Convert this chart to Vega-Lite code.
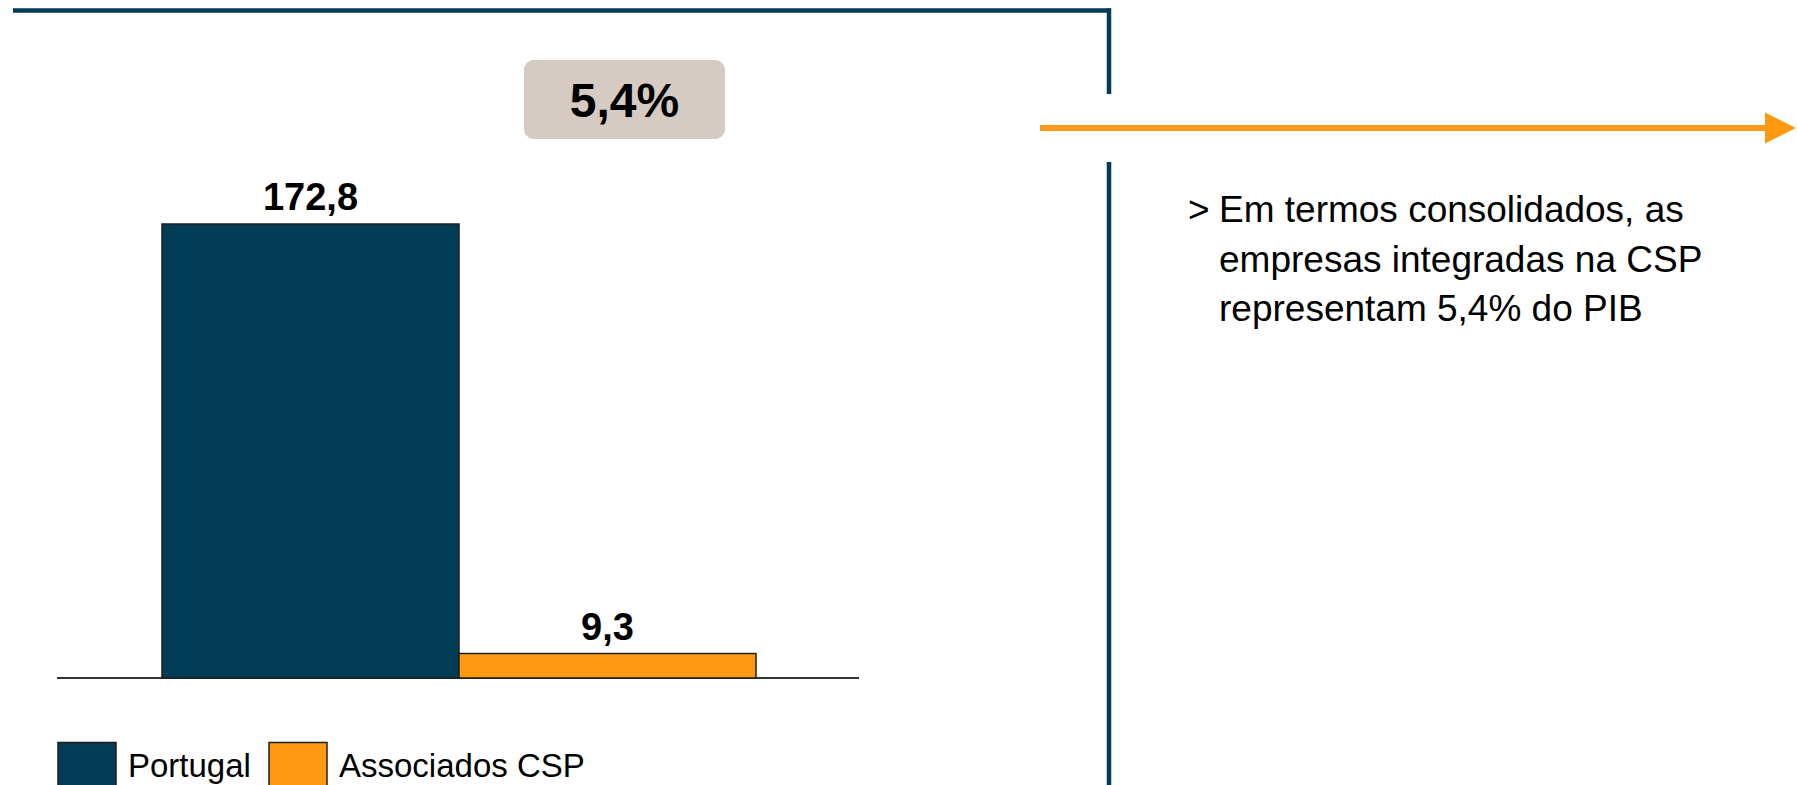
{
  "$schema": "https://vega.github.io/schema/vega-lite/v6.json",
  "autosize": "none",
  "width": 1797,
  "height": 785,
  "padding": 0,
  "background": "#ffffff",
  "config": {
    "view": {"stroke": null},
    "font": "Liberation Sans, Arial, sans-serif"
  },
  "datasets": {
    "bars": [
      {"grupo": "Portugal", "valor": 172.8, "rotulo": "172,8"},
      {"grupo": "Associados CSP", "valor": 9.3, "rotulo": "9,3"}
    ],
    "nota": [
      {"linha": 1, "texto": "Em termos consolidados, as"},
      {"linha": 2, "texto": "empresas integradas na CSP"},
      {"linha": 3, "texto": "representam 5,4% do PIB"}
    ]
  },
  "resolve": {"scale": {"x": "independent", "y": "independent"}},
  "layer": [
    {
      "data": {"values": [{}]},
      "layer": [
        {
          "mark": {"type": "rule", "color": "#033D55", "strokeWidth": 4.5},
          "encoding": {
            "x": {"datum": 13, "type": "quantitative", "scale": {"domain": [0, 1797], "nice": false, "zero": false}, "axis": null},
            "x2": {"datum": 1111},
            "y": {"datum": 10.5, "type": "quantitative", "scale": {"domain": [785, 0], "nice": false, "zero": false}, "axis": null}
          }
        },
        {
          "mark": {"type": "rule", "color": "#033D55", "strokeWidth": 4.5},
          "encoding": {
            "x": {"datum": 1109, "type": "quantitative", "scale": {"domain": [0, 1797], "nice": false, "zero": false}, "axis": null},
            "y": {"datum": 8.3, "type": "quantitative", "scale": {"domain": [785, 0], "nice": false, "zero": false}, "axis": null},
            "y2": {"datum": 94}
          }
        },
        {
          "mark": {"type": "rule", "color": "#033D55", "strokeWidth": 4.5},
          "encoding": {
            "x": {"datum": 1109, "type": "quantitative", "scale": {"domain": [0, 1797], "nice": false, "zero": false}, "axis": null},
            "y": {"datum": 162, "type": "quantitative", "scale": {"domain": [785, 0], "nice": false, "zero": false}, "axis": null},
            "y2": {"datum": 785}
          }
        },
        {
          "mark": {"type": "rule", "color": "#FF9912", "strokeWidth": 6},
          "encoding": {
            "x": {"datum": 1040, "type": "quantitative", "scale": {"domain": [0, 1797], "nice": false, "zero": false}, "axis": null},
            "x2": {"datum": 1770},
            "y": {"datum": 128, "type": "quantitative", "scale": {"domain": [785, 0], "nice": false, "zero": false}, "axis": null}
          }
        },
        {
          "mark": {"type": "point", "shape": "M-1,-1L1,0L-1,1Z", "filled": true, "size": 961, "color": "#FF9912", "opacity": 1, "strokeWidth": 0},
          "encoding": {
            "x": {"datum": 1780.5, "type": "quantitative", "scale": {"domain": [0, 1797], "nice": false, "zero": false}, "axis": null},
            "y": {"datum": 128, "type": "quantitative", "scale": {"domain": [785, 0], "nice": false, "zero": false}, "axis": null}
          }
        },
        {
          "mark": {"type": "rule", "color": "#333333", "strokeWidth": 2},
          "encoding": {
            "x": {"datum": 57, "type": "quantitative", "scale": {"domain": [0, 1797], "nice": false, "zero": false}, "axis": null},
            "x2": {"datum": 859},
            "y": {"datum": 678, "type": "quantitative", "scale": {"domain": [785, 0], "nice": false, "zero": false}, "axis": null}
          }
        },
        {
          "mark": {"type": "rect", "color": "#D5CBC2", "cornerRadius": 10},
          "encoding": {
            "x": {"datum": 524, "type": "quantitative", "scale": {"domain": [0, 1797], "nice": false, "zero": false}, "axis": null},
            "x2": {"datum": 725},
            "y": {"datum": 60, "type": "quantitative", "scale": {"domain": [785, 0], "nice": false, "zero": false}, "axis": null},
            "y2": {"datum": 139}
          }
        },
        {
          "mark": {"type": "text", "text": "5,4%", "align": "center", "baseline": "alphabetic", "fontSize": 48, "fontWeight": "bold", "color": "#000000"},
          "encoding": {
            "x": {"datum": 624.5, "type": "quantitative", "scale": {"domain": [0, 1797], "nice": false, "zero": false}, "axis": null},
            "y": {"datum": 117, "type": "quantitative", "scale": {"domain": [785, 0], "nice": false, "zero": false}, "axis": null}
          }
        },
        {
          "mark": {"type": "text", "text": ">", "align": "left", "baseline": "alphabetic", "fontSize": 37, "color": "#000000"},
          "encoding": {
            "x": {"datum": 1188, "type": "quantitative", "scale": {"domain": [0, 1797], "nice": false, "zero": false}, "axis": null},
            "y": {"datum": 222, "type": "quantitative", "scale": {"domain": [785, 0], "nice": false, "zero": false}, "axis": null}
          }
        }
      ]
    },
    {
      "data": {"name": "bars"},
      "encoding": {
        "x": {
          "field": "grupo", "type": "nominal", "sort": ["Portugal", "Associados CSP"],
          "scale": {"range": [162, 756], "paddingInner": 0, "paddingOuter": 0},
          "axis": null
        },
        "y": {
          "field": "valor", "type": "quantitative",
          "scale": {"domain": [-40.73, 258.06], "nice": false, "zero": false},
          "axis": null
        }
      },
      "layer": [
        {
          "mark": {"type": "bar", "stroke": "#1e1e1e", "strokeWidth": 1.5, "opacity": 1},
          "encoding": {
            "y2": {"datum": 0},
            "color": {
              "field": "grupo", "type": "nominal",
              "scale": {"domain": ["Portugal", "Associados CSP"], "range": ["#033D55", "#FF9912"]},
              "legend": {
                "orient": "none", "legendX": 57, "legendY": 747, "direction": "horizontal",
                "title": null, "padding": 0,
                "symbolType": "M-1,-1.2H1V0.8H-1Z", "symbolSize": 3364, "symbolStrokeColor": "#1e1e1e", "symbolStrokeWidth": 1.5, "symbolOpacity": 1,
                "labelFontSize": 33, "labelFont": "Liberation Sans, Arial, sans-serif", "labelColor": "#000000",
                "labelBaseline": "alphabetic",
                "labelOffset": 11, "columnPadding": 15, "labelLimit": 400
              }
            }
          }
        },
        {
          "mark": {"type": "text", "baseline": "alphabetic", "dy": -14, "fontSize": 38, "fontWeight": "bold", "color": "#000000"},
          "encoding": {"text": {"field": "rotulo", "type": "nominal"}}
        }
      ]
    },
    {
      "data": {"name": "nota"},
      "mark": {"type": "text", "align": "left", "baseline": "alphabetic", "fontSize": 37, "color": "#000000"},
      "encoding": {
        "x": {"datum": 1219, "type": "quantitative", "scale": {"domain": [0, 1797], "nice": false, "zero": false}, "axis": null},
        "y": {"field": "linha", "type": "ordinal", "scale": {"type": "point", "range": [222, 321], "padding": 0}, "axis": null},
        "text": {"field": "texto", "type": "nominal"}
      }
    }
  ]
}
